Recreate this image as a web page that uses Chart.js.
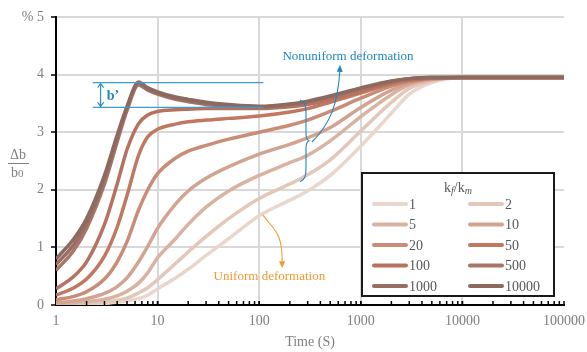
<!DOCTYPE html>
<html>
<head>
<meta charset="utf-8">
<script src="https://cdn.jsdelivr.net/npm/chart.js@4/dist/chart.umd.min.js"></script>
<style>
  html, body { margin: 0; padding: 0; background: #ffffff; }
  #wrap { width: 587px; height: 352px; position: relative; }
</style>
</head>
<body>
<div id="wrap"><canvas id="c" width="587" height="352"></canvas></div>
<script>
// Time axis samples (s)
const times = [1, 1.5, 2, 3, 4, 5, 6.5, 8, 10, 15, 20, 30, 50, 100, 200, 300, 500, 1000, 2000, 3000, 5000, 10000, 100000];

// Stiffness ratios kf/km
const ratios = ['1', '2', '5', '10', '20', '50', '100', '500', '1000', '10000'];

// Aperture change Δb/b0 (%) for each ratio
const ratio1     = [0.01, 0.01, 0.02, 0.03, 0.05, 0.07, 0.11, 0.17, 0.28, 0.47, 0.62, 0.86, 1.15, 1.55, 1.82, 1.98, 2.25, 2.76, 3.33, 3.66, 3.86, 3.95, 3.95];
const ratio2     = [0.01, 0.02, 0.03, 0.05, 0.08, 0.12, 0.21, 0.30, 0.44, 0.72, 0.92, 1.19, 1.50, 1.85, 2.10, 2.26, 2.52, 3.02, 3.52, 3.76, 3.89, 3.95, 3.95];
const ratio5     = [0.02, 0.04, 0.06, 0.10, 0.16, 0.24, 0.38, 0.56, 0.82, 1.15, 1.40, 1.70, 1.98, 2.25, 2.47, 2.60, 2.85, 3.27, 3.65, 3.82, 3.91, 3.95, 3.95];
const ratio10    = [0.04, 0.07, 0.11, 0.20, 0.32, 0.47, 0.75, 1.02, 1.33, 1.75, 1.98, 2.20, 2.40, 2.62, 2.79, 2.90, 3.08, 3.43, 3.73, 3.85, 3.92, 3.95, 3.95];
const ratio20    = [0.09, 0.15, 0.23, 0.45, 0.75, 1.10, 1.65, 2.00, 2.28, 2.55, 2.67, 2.77, 2.88, 3.00, 3.12, 3.21, 3.36, 3.59, 3.80, 3.88, 3.93, 3.95, 3.95];
const ratio50    = [0.17, 0.30, 0.45, 0.85, 1.35, 1.90, 2.60, 2.92, 3.05, 3.14, 3.18, 3.21, 3.24, 3.28, 3.35, 3.41, 3.52, 3.68, 3.84, 3.90, 3.94, 3.95, 3.95];
const ratio100   = [0.28, 0.50, 0.75, 1.40, 2.10, 2.70, 3.15, 3.30, 3.36, 3.39, 3.40, 3.41, 3.41, 3.41, 3.44, 3.48, 3.57, 3.71, 3.86, 3.91, 3.94, 3.95, 3.95];
const ratio500   = [0.60, 0.95, 1.33, 2.10, 2.83, 3.38, 3.82, 3.73, 3.66, 3.57, 3.53, 3.48, 3.45, 3.43, 3.47, 3.52, 3.61, 3.75, 3.88, 3.93, 3.95, 3.95, 3.95];
const ratio1000  = [0.70, 1.05, 1.42, 2.18, 2.90, 3.42, 3.85, 3.75, 3.68, 3.59, 3.55, 3.50, 3.46, 3.44, 3.48, 3.53, 3.62, 3.76, 3.88, 3.93, 3.95, 3.95, 3.95];
const ratio10000 = [0.80, 1.15, 1.50, 2.25, 2.95, 3.45, 3.87, 3.77, 3.70, 3.61, 3.57, 3.52, 3.48, 3.45, 3.49, 3.54, 3.63, 3.77, 3.89, 3.93, 3.95, 3.95, 3.95];

const seriesValues = [ratio1, ratio2, ratio5, ratio10, ratio20, ratio50, ratio100, ratio500, ratio1000, ratio10000];

// Axis ticks
const xTicks = [1, 10, 100, 1000, 10000, 100000];
const yTicks = [0, 1, 2, 3, 4, 5];

// b' band: peak and trough of the stiff-fracture curves, and its horizontal span (s)
const bBand = { top: 3.86, bottom: 3.43, from: 2.3, to: 110, arrowAt: 2.75, labelAt: 3.15 };

// Line colours, light (soft fracture) to dark (stiff fracture)
const palette = ['#e9d6cd', '#e3c7b9', '#d9b3a2', '#d2a391', '#c98c76', '#c27860', '#b6725e', '#a77668', '#986e62', '#8c6a60'];

const SERIF = "'Liberation Serif', 'Times New Roman', serif";
const GREY = '#7f7f7f';
const BLUE = '#1f88c2';
const BLUE_LINE = '#3c9dd2';
const ORANGE = '#f29a2e';

const datasets = seriesValues.map((vals, i) => ({
  label: ratios[i],
  data: times.map((t, j) => ({ x: t, y: vals[j] })),
  borderColor: palette[i],
  backgroundColor: palette[i],
  borderWidth: 3.5,
  pointRadius: 0,
  cubicInterpolationMode: 'monotone',
  fill: false,
  order: seriesValues.length - i
}));

function arrowHead(ctx, x, y, ang, len, wid, filled) {
  ctx.save();
  ctx.translate(x, y);
  ctx.rotate(ang);
  ctx.beginPath();
  ctx.moveTo(-len, -wid);
  ctx.lineTo(0, 0);
  ctx.lineTo(-len, wid);
  if (filled) { ctx.closePath(); ctx.fill(); } else { ctx.stroke(); }
  ctx.restore();
}

const decor = {
  id: 'decor',
  afterDraw(chart) {
    const { ctx, chartArea: ca, scales: { x, y } } = chart;
    const P = (t, v) => [x.getPixelForValue(t), y.getPixelForValue(v)];

    // inward minor ticks on the time axis
    ctx.save();
    ctx.strokeStyle = '#000';
    ctx.lineWidth = 1.5;
    for (let d = 1; d < 100000; d *= 10) {
      for (let m = 1; m <= 10; m++) {
        const px = x.getPixelForValue(m * d);
        if (px <= ca.left + 1) continue;
        ctx.beginPath();
        ctx.moveTo(px, ca.bottom);
        ctx.lineTo(px, ca.bottom - 4);
        ctx.stroke();
      }
    }
    ctx.restore();

    // b' band
    ctx.save();
    ctx.strokeStyle = BLUE_LINE;
    ctx.lineWidth = 1.3;
    const [bx0, byTop] = P(bBand.from, bBand.top);
    const [bx1, byBot] = P(bBand.to, bBand.bottom);
    ctx.beginPath();
    ctx.moveTo(bx0, byTop); ctx.lineTo(bx1, byTop);
    ctx.moveTo(bx0, byBot); ctx.lineTo(bx1, byBot);
    ctx.stroke();
    const [ax] = P(bBand.arrowAt, 0);
    ctx.strokeStyle = BLUE;
    ctx.lineWidth = 1.1;
    ctx.beginPath();
    ctx.moveTo(ax, byTop + 1); ctx.lineTo(ax, byBot - 1);
    ctx.stroke();
    arrowHead(ctx, ax, byTop + 1, -Math.PI / 2, 4, 3, false);
    arrowHead(ctx, ax, byBot - 1, Math.PI / 2, 4, 3, false);
    const [lx] = P(bBand.labelAt, 0);
    ctx.fillStyle = BLUE;
    ctx.font = "bold 14px " + SERIF;
    ctx.textBaseline = 'middle';
    ctx.textAlign = 'left';
    ctx.fillText('b\u2019', lx, (byTop + byBot) / 2 + 1);
    ctx.restore();

    // Nonuniform deformation: brace and arrow
    ctx.save();
    ctx.strokeStyle = BLUE;
    ctx.fillStyle = BLUE;
    ctx.lineWidth = 1.1;
    const [brx, brTop] = P(252, 3.56);
    const [, brBot] = P(252, 2.14);
    const [tipX, tipY] = P(309, 2.85);
    ctx.beginPath();
    ctx.moveTo(brx, brTop);
    ctx.bezierCurveTo(brx + 5, brTop + 2, brx + 6, brTop + 6, brx + 6, brTop + 14);
    ctx.lineTo(brx + 6, tipY - 8);
    ctx.quadraticCurveTo(brx + 6, tipY - 1, tipX, tipY);
    ctx.quadraticCurveTo(brx + 6, tipY + 1, brx + 6, tipY + 8);
    ctx.lineTo(brx + 6, brBot - 14);
    ctx.bezierCurveTo(brx + 6, brBot - 6, brx + 5, brBot - 2, brx, brBot);
    ctx.stroke();
    const [nsX, nsY] = P(331, 2.83);
    const [neX, neY] = P(624, 4.17);
    ctx.beginPath();
    ctx.moveTo(nsX, nsY);
    ctx.bezierCurveTo(nsX + 18, nsY - 18, neX - 2, neY + 40, neX, neY + 4);
    ctx.stroke();
    arrowHead(ctx, neX, neY, -Math.PI / 2 + 0.03, 7, 3, true);
    const [ntX, ntY] = P(748, 4.32);
    ctx.font = "13px " + SERIF;
    ctx.textAlign = 'center';
    ctx.textBaseline = 'middle';
    ctx.fillText('Nonuniform deformation', ntX, ntY);
    ctx.restore();

    // Uniform deformation: arrow and label
    ctx.save();
    ctx.strokeStyle = ORANGE;
    ctx.fillStyle = ORANGE;
    ctx.lineWidth = 1.1;
    const [usX, usY] = P(109, 1.56);
    const [ueX, ueY] = P(168, 0.64);
    ctx.beginPath();
    ctx.moveTo(usX, usY);
    ctx.bezierCurveTo(usX + 10, usY + 14, ueX + 1, ueY - 36, ueX, ueY - 5);
    ctx.stroke();
    arrowHead(ctx, ueX, ueY, Math.PI / 2, 7, 3, true);
    const [utX, utY] = P(126, 0.49);
    ctx.font = "13px " + SERIF;
    ctx.textAlign = 'center';
    ctx.textBaseline = 'middle';
    ctx.fillText('Uniform deformation', utX, utY);
    ctx.restore();

    // Legend box
    ctx.save();
    const lw = 192, lh = 123;
    const lx0 = ca.right - 202, ly0 = ca.bottom - 132;
    ctx.fillStyle = '#ffffff';
    ctx.fillRect(lx0, ly0, lw, lh);
    ctx.strokeStyle = '#1a1a1a';
    ctx.lineWidth = 2;
    ctx.strokeRect(lx0, ly0, lw, lh);

    // legend title kf/km
    const ttlY = ly0 + 15;
    const big = "14px " + SERIF, small = "italic 10px " + SERIF;
    const parts = [['k', big, 0], ['f', small, 3], ['/k', big, 0], ['m', small, 3]];
    let tw = 0;
    parts.forEach(p => { ctx.font = p[1]; tw += ctx.measureText(p[0]).width; });
    let cx = lx0 + lw / 2 - tw / 2;
    ctx.fillStyle = '#595959';
    ctx.textBaseline = 'middle';
    ctx.textAlign = 'left';
    parts.forEach(p => {
      ctx.font = p[1];
      ctx.fillText(p[0], cx, ttlY + p[2]);
      cx += ctx.measureText(p[0]).width;
    });

    ctx.lineCap = 'round';
    chart.data.datasets.forEach((ds, i) => {
      const row = Math.floor(i / 2), col = i % 2;
      const rowY = ly0 + 31 + row * 20.5;
      const sx = lx0 + 12 + col * 96;
      ctx.strokeStyle = ds.borderColor;
      ctx.lineWidth = 4;
      ctx.beginPath();
      ctx.moveTo(sx, rowY);
      ctx.lineTo(sx + 32, rowY);
      ctx.stroke();
      ctx.fillStyle = '#595959';
      ctx.font = "14px " + SERIF;
      ctx.fillText(ds.label, sx + 35, rowY + 1);
    });
    ctx.restore();

    // y-axis title: Δb / b0
    ctx.save();
    ctx.fillStyle = GREY;
    ctx.strokeStyle = GREY;
    ctx.textBaseline = 'middle';
    ctx.textAlign = 'center';
    const yc = (ca.top + ca.bottom) / 2;
    ctx.font = "14px " + SERIF;
    ctx.fillText('\u0394b', 18, yc - 6);
    ctx.lineWidth = 1;
    ctx.beginPath();
    ctx.moveTo(8, yc + 2.5); ctx.lineTo(29, yc + 2.5);
    ctx.stroke();
    ctx.textAlign = 'left';
    ctx.font = "14px " + SERIF;
    const bw = ctx.measureText('b').width;
    ctx.fillText('b', 11, yc + 12);
    ctx.font = "11px " + SERIF;
    ctx.fillText('0', 11 + bw, yc + 13);
    ctx.restore();
  }
};

new Chart(document.getElementById('c'), {
  type: 'line',
  data: { datasets },
  options: {
    responsive: false,
    animation: false,
    devicePixelRatio: 1,
    layout: { padding: { left: 0, right: 23, top: 17, bottom: 0 } },
    plugins: { legend: { display: false }, tooltip: { enabled: false } },
    scales: {
      x: {
        type: 'logarithmic',
        min: 1,
        max: 100000,
        afterBuildTicks: s => { s.ticks = xTicks.map(v => ({ value: v })); },
        afterFit: s => { s.height = 47; s.paddingLeft = 0; s.paddingRight = 0; },
        ticks: {
          callback: v => String(v),
          font: { family: SERIF, size: 14 },
          color: GREY,
          padding: 8,
          maxRotation: 0,
          autoSkip: false
        },
        grid: {
          color: ctx => (ctx.tick && (ctx.tick.value === 1 || ctx.tick.value === 100000)) ? 'rgba(0,0,0,0)' : '#d9d9d9',
          lineWidth: 2,
          drawTicks: false
        },
        border: { color: '#000', width: 2 },
        title: {
          display: true,
          text: 'Time (S)',
          font: { family: SERIF, size: 14 },
          color: GREY,
          padding: { top: 0, bottom: 1 }
        }
      },
      y: {
        type: 'linear',
        min: 0,
        max: 5,
        afterBuildTicks: s => { s.ticks = yTicks.map(v => ({ value: v })); },
        afterFit: s => { s.width = 56; s.paddingTop = 0; s.paddingBottom = 0; },
        ticks: {
          callback: v => (v === 5 ? '% 5' : String(v)),
          font: { family: SERIF, size: 14 },
          color: GREY,
          padding: 7
        },
        grid: {
          color: '#d9d9d9',
          lineWidth: 2,
          tickColor: '#000',
          tickLength: 5,
          tickWidth: 1.5
        },
        border: { color: '#000', width: 2 }
      }
    }
  },
  plugins: [decor]
});
</script>
</body>
</html>
